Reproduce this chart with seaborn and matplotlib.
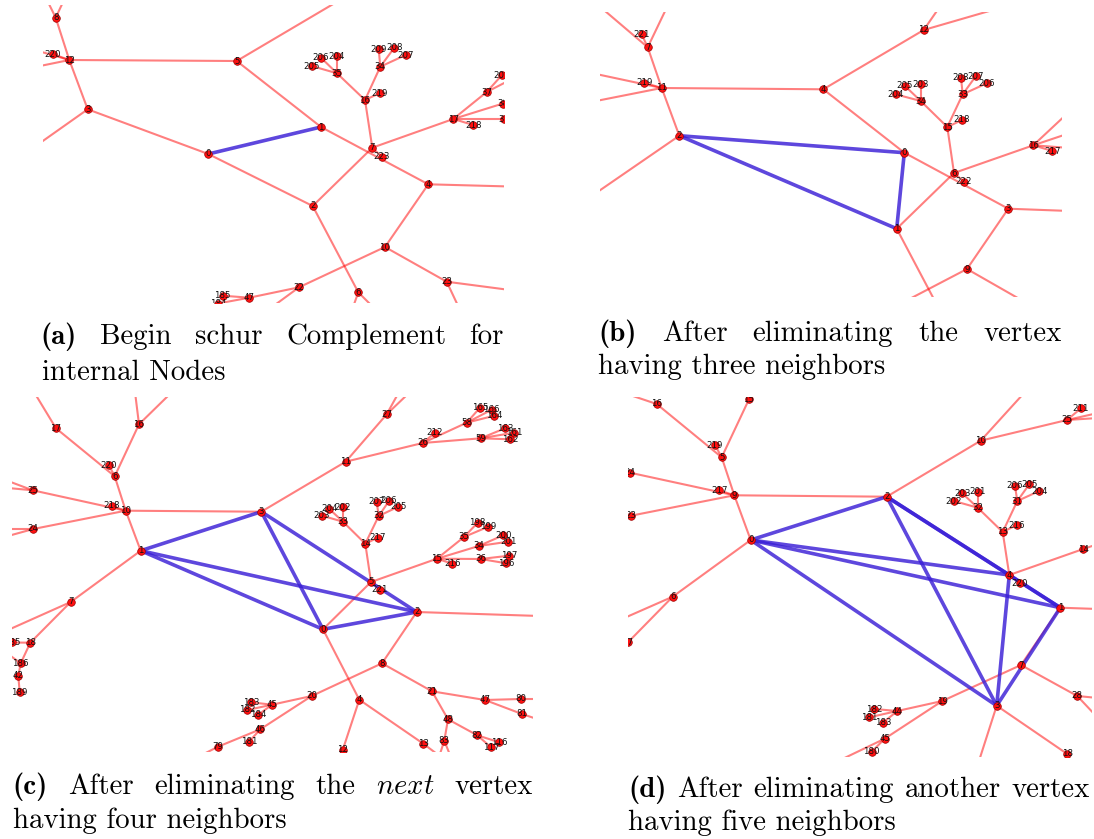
import matplotlib
matplotlib.use("Agg")
import matplotlib.pyplot as plt
from matplotlib.collections import LineCollection
import seaborn as sns

sns.set_theme(style="white")
plt.rcParams["mathtext.fontset"] = "cm"
plt.rcParams["font.family"] = ["DejaVu Sans"]

W, H = 1094, 839

# ---------------- panel (a) ----------------
a_labels = ["8", "220", "12", "5", "3", "0", "1", "2", "7", "223", "4", "10", "23", "6",
            "22", "47", "185", "184", "16", "35", "206", "204", "205", "34", "209", "208",
            "207", "219", "17", "218", "37", "201", "38", "39"]
a_x = [55.7, 52.7, 69.3, 236.7, 87.7, 208.3, 321, 312.7, 372.3, 381.7, 428.3, 385, 446.7, 358.3,
       299, 249.3, 222.7, 218, 365, 337, 321, 337, 311.7, 380.3, 378.7, 394.3,
       405.7, 380, 453.3, 473.3, 486.7, 502, 503, 504]
a_y = [17.7, 54, 60, 61, 109.3, 154, 127, 206, 147.7, 156.7, 184.3, 247, 281.7, 292.3,
       287.3, 297.7, 295.7, 303.5, 100, 73.3, 57.7, 56, 66, 66.7, 49.3, 47.7,
       55, 93, 119, 125, 92, 75, 103.5, 119]
a_edges = [("8", "12"), ("220", "12"), ("12", "5"), ("12", "3"), ("5", "1"), ("3", "0"),
           ("0", "2"), ("1", "4"), ("7", "223"), ("2", "7"), ("7", "17"), ("7", "16"),
           ("16", "35"), ("16", "34"), ("16", "219"), ("35", "206"), ("35", "204"),
           ("35", "205"), ("34", "209"), ("34", "208"), ("34", "207"), ("17", "37"),
           ("17", "218"), ("17", "38"), ("17", "39"), ("37", "201"), ("4", "10"),
           ("10", "22"), ("10", "23"), ("2", "6"), ("22", "47"), ("47", "185"), ("47", "184")]
a_stubs = [("8", 47, 0), ("8", 64, 0), ("12", 40, 51.5), ("12", 40, 66), ("3", 40, 143),
           ("5", 340, 0), ("4", 510, 186.5), ("37", 510, 80), ("23", 510, 290),
           ("23", 460, 310), ("6", 352, 310), ("6", 376, 310), ("22", 268, 310)]
a_blue = [("0", "1")]
a_box = (43, 504, 5, 303)

# ---------------- panel (b) ----------------
b_labels = ["221", "7", "219", "11", "2", "4", "12", "0", "1", "6", "222", "3", "9", "15",
            "218", "34", "205", "203", "204", "33", "208", "207", "206", "16", "217"]
b_x = [641.7, 647.7, 644.3, 661.7, 679.3, 823.3, 923.7, 904.3, 896.7, 954, 964, 1008.3, 967,
       947.3, 962, 920.7, 905, 920.7, 895.7, 962.7, 961, 975.7, 986.7, 1033.3, 1052.3]
b_y = [34.3, 47.3, 82.7, 88, 135.7, 89.3, 30, 152.7, 228.7, 173, 181.7, 208.7, 269, 127,
       120, 101, 86, 84.3, 94.3, 94.3, 77.7, 76.3, 83.3, 145.3, 151]
b_edges = [("7", "221"), ("7", "11"), ("219", "11"), ("11", "4"), ("11", "2"), ("4", "12"),
           ("4", "0"), ("0", "3"), ("6", "222"), ("1", "6"), ("6", "15"), ("6", "16"),
           ("15", "34"), ("15", "33"), ("15", "218"), ("34", "205"), ("34", "203"),
           ("34", "204"), ("33", "208"), ("33", "207"), ("33", "206"), ("16", "217"),
           ("3", "9")]
b_stubs = [("7", 598, 5), ("7", 668, 5), ("11", 596, 74), ("11", 596, 101), ("2", 596, 193),
           ("12", 941, 5), ("12", 1010, 5), ("16", 1070, 111), ("16", 1070, 133),
           ("16", 1070, 148), ("3", 1070, 211), ("1", 937, 305), ("9", 898, 305),
           ("9", 1030, 305)]
b_blue = [("2", "0"), ("2", "1"), ("0", "1")]
b_box = (600, 1062, 11.7, 297)

# ---------------- panel (c) ----------------
c_labels = ["17", "16", "220", "6", "25", "218", "10", "24", "1", "7", "18", "185", "186", "42",
            "189", "3", "11", "27", "26", "212", "58", "165", "166", "164", "59", "163",
            "161", "162", "33", "204", "202", "203", "32", "207", "206", "205", "14", "217",
            "5", "221", "15", "35", "198", "199", "34", "200", "201", "36", "197", "196",
            "216", "2", "0", "8", "21", "47", "80", "81", "48", "82", "116", "117", "83",
            "13", "4", "12", "20", "45", "183", "182", "184", "46", "181", "79"]
c_x = [56, 139, 109, 114.7, 32.7, 111.7, 125.7, 33.3, 140.7, 70.7, 30.3, 12, 20.7, 18.3,
       19.7, 261.3, 345.7, 386.7, 422.7, 435, 466.7, 480, 491.7, 494.3, 480.7, 505,
       514, 510, 343, 329.3, 343, 322, 378.7, 376.7, 389, 398.3, 365.3, 377.7,
       371, 380, 437, 464, 477.7, 488.3, 478.7, 503.3, 508.3, 480.7, 509, 506.3,
       452.3, 416.7, 323, 382, 432, 485, 520.7, 522, 448, 477.3, 499.3, 491, 444.3,
       423.3, 359.3, 342.7, 311.7, 272, 251, 247.3, 258.3, 260.3, 249, 218]
c_y = [428.3, 424.3, 465.3, 476.3, 490.3, 506, 510.7, 529, 550.7, 602, 642.7, 642.5, 663.3, 676,
       692.3, 511.7, 461.7, 414.3, 443, 432.7, 422.7, 407.7, 409.7, 415.7, 438.3, 428.3,
       432.7, 439.3, 521.7, 509, 507.3, 515.7, 516, 502, 501, 506.7, 543.7, 537.7,
       582, 590, 558.7, 537, 522.7, 526.7, 546, 535.3, 541.7, 559, 555.7, 563.3,
       563.7, 612, 629.3, 663.3, 691.3, 700, 699, 714, 719.3, 735.3, 742.3, 747.3, 740.7,
       743.7, 699.7, 750, 696, 704.7, 702.3, 710, 714.7, 729.3, 741.7, 746.7]
c_edges = [("17", "6"), ("16", "6"), ("220", "6"), ("6", "10"), ("25", "10"), ("218", "10"),
           ("24", "10"), ("10", "1"), ("10", "3"), ("1", "7"), ("3", "11"), ("11", "27"),
           ("11", "26"), ("26", "212"), ("26", "58"), ("26", "59"), ("58", "165"),
           ("58", "166"), ("58", "164"), ("59", "163"), ("59", "161"), ("59", "162"),
           ("0", "5"), ("5", "14"), ("5", "15"), ("5", "221"), ("14", "33"), ("14", "32"),
           ("14", "217"), ("33", "204"), ("33", "202"), ("33", "203"), ("32", "207"),
           ("32", "206"), ("32", "205"), ("15", "35"), ("15", "34"), ("15", "36"),
           ("15", "216"), ("35", "198"), ("35", "199"), ("34", "200"), ("34", "201"),
           ("36", "197"), ("36", "196"), ("2", "8"), ("0", "4"), ("8", "20"), ("8", "21"),
           ("21", "47"), ("21", "48"), ("47", "80"), ("47", "81"), ("48", "82"),
           ("48", "83"), ("82", "116"), ("82", "117"), ("4", "12"), ("4", "13"),
           ("20", "45"), ("20", "46"), ("45", "183"), ("45", "182"), ("45", "184"),
           ("46", "181"), ("46", "79"), ("7", "18"), ("18", "186"), ("186", "42"),
           ("42", "189"), ("18", "185")]
c_stubs = [("17", 34, 392), ("16", 135, 392), ("16", 172, 392), ("25", 8, 481),
           ("25", 8, 488), ("24", 8, 529), ("24", 8, 536), ("27", 399, 392), ("27", 410, 392),
           ("2", 540, 616), ("80", 540, 699), ("81", 540, 720), ("83", 438, 760),
           ("83", 452, 760), ("13", 445, 760), ("12", 341, 760), ("79", 192, 760),
           ("7", 8, 630), ("186", 8, 654)]
c_blue = [("1", "3"), ("1", "0"), ("1", "2"), ("3", "0"), ("3", "2"), ("0", "2")]
c_box = (12, 533, 397, 752)

# ---------------- panel (d) ----------------
d_labels = ["16", "15", "219", "5", "24", "217", "9", "23", "0", "6", "27", "2", "10", "25",
            "211", "32", "203", "201", "202", "31", "206", "205", "204", "13", "216", "4",
            "220", "14", "1", "7", "28", "3", "19", "44", "182", "181", "183", "45", "180",
            "18"]
d_x = [656.7, 749, 715, 721.7, 630, 719.3, 734.3, 631, 750.7, 672.7, 628, 886.7, 980.7, 1067,
       1081, 977.7, 962.3, 977.7, 954, 1017.3, 1015, 1029.3, 1039.3, 1002.7, 1016.7, 1009.3,
       1019.7, 1083.3, 1060.3, 1021, 1077.3, 996.7, 942.3, 897.3, 874.3, 869.3, 883, 884.7,
       871.7, 1067.3]
d_y = [404, 399.3, 445, 457.3, 472.7, 490.3, 495.3, 515.7, 540, 596.7, 642.3, 496.7, 440.7, 420,
       408.3, 507.7, 493.3, 492, 501, 501, 486, 484.3, 491, 532, 525, 575,
       583.3, 549, 607.7, 665, 696, 705.7, 701, 711, 709, 717.3, 722.7, 738.7,
       751.7, 754]
d_edges = [("16", "5"), ("15", "5"), ("219", "5"), ("5", "9"), ("24", "9"), ("217", "9"),
           ("23", "9"), ("9", "2"), ("9", "0"), ("0", "6"), ("2", "10"), ("10", "25"),
           ("25", "211"), ("4", "13"), ("4", "14"), ("4", "220"), ("13", "32"), ("13", "31"),
           ("13", "216"), ("32", "203"), ("32", "201"), ("32", "202"), ("31", "206"),
           ("31", "205"), ("31", "204"), ("1", "7"), ("7", "19"), ("7", "28"), ("19", "44"),
           ("19", "45"), ("44", "182"), ("44", "181"), ("44", "183"), ("45", "180"),
           ("3", "18"), ("6", "27")]
d_stubs = [("16", 624, 393), ("15", 757, 392), ("10", 1025, 392), ("25", 1098, 413),
           ("25", 1098, 418), ("6", 622, 619), ("14", 1098, 544), ("1", 1098, 609),
           ("28", 1098, 698), ("28", 1098, 718), ("3", 978, 764), ("45", 832, 764),
           ("24", 622, 471), ("23", 622, 517)]
d_blue = [("0", "2"), ("0", "4"), ("0", "1"), ("0", "3"), ("2", "4"), ("4", "1"), ("2", "1"),
          ("2", "3"), ("4", "3"), ("1", "3")]
d_box = (628, 1092, 397, 757)

RED_EDGE = (1.0, 0.0, 0.0, 0.5)
BLUE_EDGE = "#3a1fd6"

fig = plt.figure(figsize=(W / 100, H / 100), dpi=100)


def draw_graph(labels, xs, ys, edges, stubs, blue, box):
    x0, x1, y0, y1 = box
    ax = fig.add_axes([x0 / W, 1 - y1 / H, (x1 - x0) / W, (y1 - y0) / H])
    pos = {n: (x, y) for n, x, y in zip(labels, xs, ys)}
    red_segs = [[pos[u], pos[v]] for u, v in edges]
    red_segs += [[pos[u], (sx, sy)] for u, sx, sy in stubs]
    ax.add_collection(LineCollection(red_segs, colors=[RED_EDGE], linewidths=1.5, zorder=1))
    blue_segs = [[pos[u], pos[v]] for u, v in blue]
    ax.add_collection(LineCollection(blue_segs, colors=BLUE_EDGE, alpha=0.82,
                                     linewidths=2.6, zorder=2))
    sns.scatterplot(x=xs, y=ys, ax=ax, color="#ff1010", s=30, edgecolor="#9a0000",
                    linewidth=0.5, zorder=3, legend=False)
    for n, x, y in zip(labels, xs, ys):
        ax.text(x, y, n, fontsize=6.2, color="#111111", ha="center", va="center",
                zorder=4, clip_on=True)
    ax.set_xlim(x0, x1)
    ax.set_ylim(y1, y0)
    ax.set_axis_off()
    return ax


draw_graph(a_labels, a_x, a_y, a_edges, a_stubs, a_blue, a_box)
draw_graph(b_labels, b_x, b_y, b_edges, b_stubs, b_blue, b_box)
draw_graph(c_labels, c_x, c_y, c_edges, c_stubs, c_blue, c_box)
draw_graph(d_labels, d_x, d_y, d_edges, d_stubs, d_blue, d_box)

# ---------------- captions ----------------
CAP_SIZE = 20.8
renderer = fig.canvas.get_renderer()


def word(txt, x, y, kind="rm"):
    fam = {"rm": "cmr10", "bf": "cmb10", "it": "cmr10"}[kind]
    return fig.text(x / W, 1 - y / H, txt, fontsize=CAP_SIZE, family=fam,
                    ha="left", va="baseline", color="black")


def justified(parts, x0, x1, y):
    items = [word(t, x0, y, k) for t, k in parts]
    widths = [it.get_window_extent(renderer).width for it in items]
    gap = (x1 - x0 - sum(widths)) / (len(items) - 1)
    x = x0
    for it, w in zip(items, widths):
        it.set_x(x / W)
        x += w + gap


cap_a1 = [("(a)", "bf"), ("Begin", "rm"), ("schur", "rm"), ("Complement", "rm"), ("for", "rm")]
cap_a2 = "internal Nodes"
cap_b1 = [("(b)", "bf"), ("After", "rm"), ("eliminating", "rm"), ("the", "rm"), ("vertex", "rm")]
cap_b2 = "having three neighbors"
cap_c1 = [("(c)", "bf"), ("After", "rm"), ("eliminating", "rm"), ("the", "rm"),
          (r"$\mathit{next}$", "it"), ("vertex", "rm")]
cap_c2 = "having four neighbors"
cap_d1 = [("(d)", "bf"), ("After", "rm"), ("eliminating", "rm"), ("another", "rm"), ("vertex", "rm")]
cap_d2 = "having five neighbors"

justified(cap_a1, 40, 504, 344)
word(cap_a2, 42, 380)
justified(cap_b1, 598, 1062, 341)
word(cap_b2, 598, 374)
justified(cap_c1, 12, 533, 794)
word(cap_c2, 13, 828)
justified(cap_d1, 628, 1090, 797)
word(cap_d2, 628, 830)

fig.savefig("out.png", dpi=100, facecolor="white")
